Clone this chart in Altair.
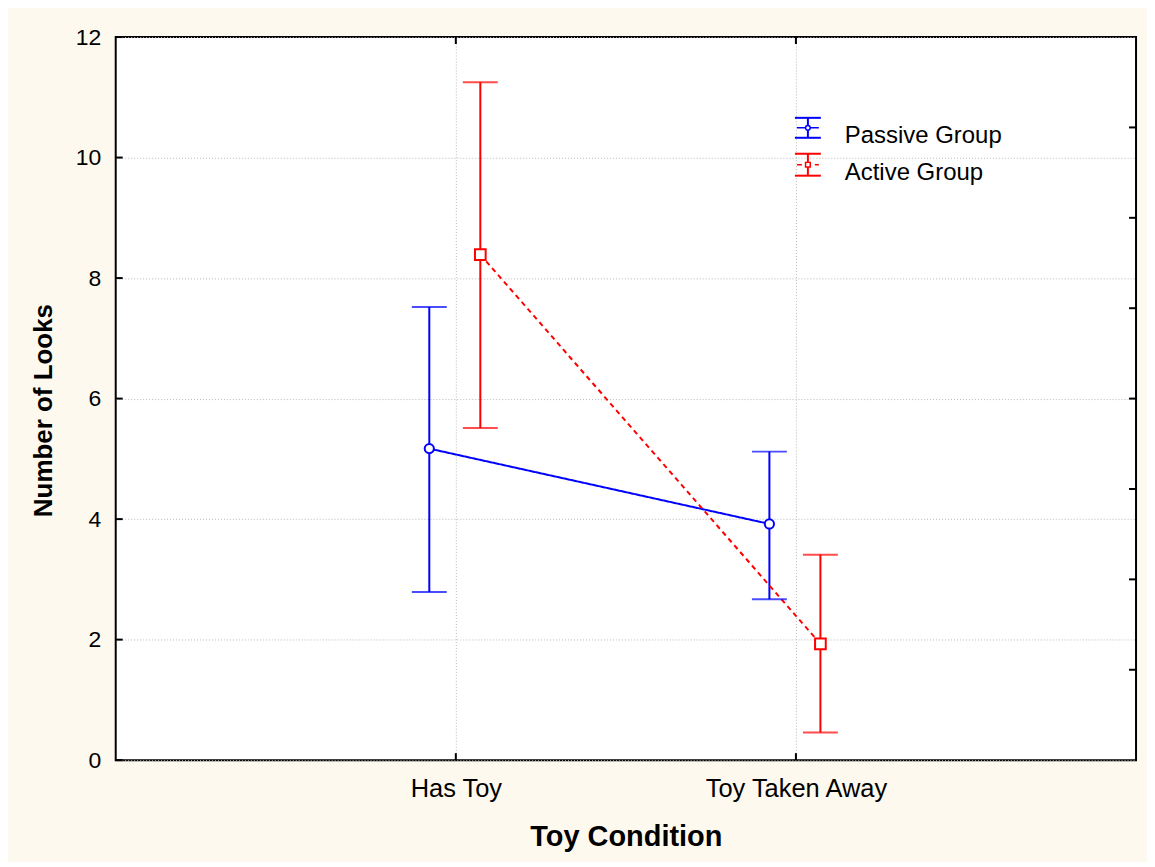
import altair as alt
import pandas as pd

# ---- data ----
conditions = ["Has Toy", "Toy Taken Away"]
groups = ["Passive Group", "Active Group"]
passive_mean = [5.17, 3.92]
passive_upper = [7.52, 5.12]
passive_lower = [2.79, 2.67]
active_mean = [8.39, 1.93]
active_upper = [11.25, 3.41]
active_lower = [5.51, 0.46]
group_offset = [-0.078, 0.072]          # horizontal dodge of the two groups
y_tick_values = [0, 2, 4, 6, 8, 10, 12]
right_tick_values = [1.5, 3, 4.5, 6, 7.5, 9, 10.5]
x_tick_values = [1, 2]

rows = []
for gi, (g, m, up, lo) in enumerate(zip(groups,
                                        [passive_mean, active_mean],
                                        [passive_upper, active_upper],
                                        [passive_lower, active_lower])):
    for ci, c in enumerate(conditions):
        rows.append({"group": g, "condition": c,
                     "x": ci + 1 + group_offset[gi],
                     "mean": m[ci], "upper": up[ci], "lower": lo[ci]})
df = pd.DataFrame(rows)

W, H = 1023, 725
FONT = "Liberation Sans"
BLUE, RED = "#0000FF", "#FF0000"
COLORS = [BLUE, RED]
DASHES = [[1, 0], [5, 4]]
SHAPES = ["circle", "square"]

color = alt.Color("group:N", scale=alt.Scale(domain=groups, range=COLORS), legend=None)

xscale = alt.Scale(domain=[0, 3], nice=False, zero=False)
yscale = alt.Scale(domain=[0, 12], nice=False)

x_axis = alt.Axis(values=x_tick_values, title="Toy Condition",
                  labelExpr="datum.value == 1 ? 'Has Toy' : 'Toy Taken Away'",
                  grid=True, gridDash=[1, 2], gridColor="#B8B8B8", labelLimit=0,
                  ticks=False, domain=False, labelFontSize=25.5, labelPadding=16,
                  titleFontSize=29, titleFontWeight="bold", titlePadding=21,
                  labelFont=FONT, titleFont=FONT, labelColor="#000", titleColor="#000")
y_axis = alt.Axis(values=y_tick_values, title="Number of Looks", format="d",
                  grid=True, gridDash=[1, 2], gridColor="#B8B8B8",
                  ticks=False, domain=False, labelFontSize=23, labelPadding=15,
                  titleFontSize=26, titleFontWeight="bold", titlePadding=19,
                  titleY=374,
                  labelFont=FONT, titleFont=FONT, labelColor="#000", titleColor="#000")

base = alt.Chart(df)

bars = base.mark_rule(strokeWidth=2).encode(
    x=alt.X("x:Q", scale=xscale, axis=x_axis),
    y=alt.Y("lower:Q", scale=yscale, axis=y_axis),
    y2="upper:Q",
    color=color,
)

lines = base.mark_line(strokeWidth=2).encode(
    x="x:Q", y="mean:Q",
    color=color,
    detail="group:N",
    strokeDash=alt.StrokeDash("group:N", scale=alt.Scale(domain=groups, range=DASHES), legend=None),
)

caps_hi = base.mark_tick(orient="horizontal", size=35, thickness=2).encode(
    x="x:Q", y="upper:Q", color=color)
caps_lo = base.mark_tick(orient="horizontal", size=35, thickness=2).encode(
    x="x:Q", y="lower:Q", color=color)

points = base.mark_point(filled=False, fill="white", fillOpacity=1, strokeWidth=2, opacity=1).encode(
    x="x:Q", y="mean:Q", color=color,
    shape=alt.Shape("group:N", scale=alt.Scale(domain=groups, range=SHAPES), legend=None),
    size=alt.Size("group:N", scale=alt.Scale(domain=groups, range=[85, 115]), legend=None),
)

# inward tick marks on all four sides
left_ticks = alt.Chart(pd.DataFrame({"v": y_tick_values})).mark_rule(color="#000", strokeWidth=2).encode(
    y="v:Q", x=alt.value(0), x2=alt.value(7))
right_ticks = alt.Chart(pd.DataFrame({"v": right_tick_values})).mark_rule(color="#000", strokeWidth=2).encode(
    y="v:Q", x=alt.value(W - 7), x2=alt.value(W))
bottom_ticks = alt.Chart(pd.DataFrame({"v": x_tick_values})).mark_rule(color="#000", strokeWidth=2).encode(
    x="v:Q", y=alt.value(H), y2=alt.value(H - 7))
top_ticks = alt.Chart(pd.DataFrame({"v": x_tick_values})).mark_rule(color="#000", strokeWidth=2).encode(
    x="v:Q", y=alt.value(0), y2=alt.value(7))

# legend: error-bar icon + label for each group (positions in plot pixels)
LEG_X, LEG_Y0, LEG_STEP = 694, 91, 37
legend_layers = []
for i, g in enumerate(groups):
    ldf = pd.DataFrame({"label": [g]})
    cy = LEG_Y0 + i * LEG_STEP
    half = 10 + i
    lc = alt.Chart(ldf)
    legend_layers += [
        lc.mark_rule(color=COLORS[i], strokeWidth=2).encode(
            x=alt.value(LEG_X), y=alt.value(cy - half), y2=alt.value(cy + half)),
        lc.mark_rule(color=COLORS[i], strokeWidth=2).encode(
            x=alt.value(LEG_X - 13), x2=alt.value(LEG_X + 13), y=alt.value(cy - half)),
        lc.mark_rule(color=COLORS[i], strokeWidth=2).encode(
            x=alt.value(LEG_X - 13), x2=alt.value(LEG_X + 13), y=alt.value(cy + half)),
        lc.mark_rule(color=COLORS[i], strokeWidth=1.5, strokeDash=DASHES[i]).encode(
            x=alt.value(LEG_X - 11), x2=alt.value(LEG_X + 11), y=alt.value(cy)),
        lc.mark_point(color=COLORS[i], shape=SHAPES[i], filled=False, fill="white",
                      fillOpacity=1, opacity=1, size=22, strokeWidth=1.5).encode(
            x=alt.value(LEG_X), y=alt.value(cy)),
        lc.mark_text(align="left", baseline="alphabetic", font=FONT, fontSize=24,
                     color="#000").encode(
            text="label:N", x=alt.value(LEG_X + 37), y=alt.value(cy + 15)),
    ]

chart = alt.layer(
    bars, lines, caps_hi, caps_lo, points,
    left_ticks, right_ticks, bottom_ticks, top_ticks,
    *legend_layers,
).properties(
    width=W, height=H,
    padding={"left": 108, "top": 28, "right": 11, "bottom": 101},
    autosize=alt.AutoSizeParams(type="none"),
    background="#FEF9EE",
).configure_view(
    fill="white", stroke="#000", strokeWidth=2
)

chart.save("out.html", embed_options={"renderer": "svg", "actions": False})
